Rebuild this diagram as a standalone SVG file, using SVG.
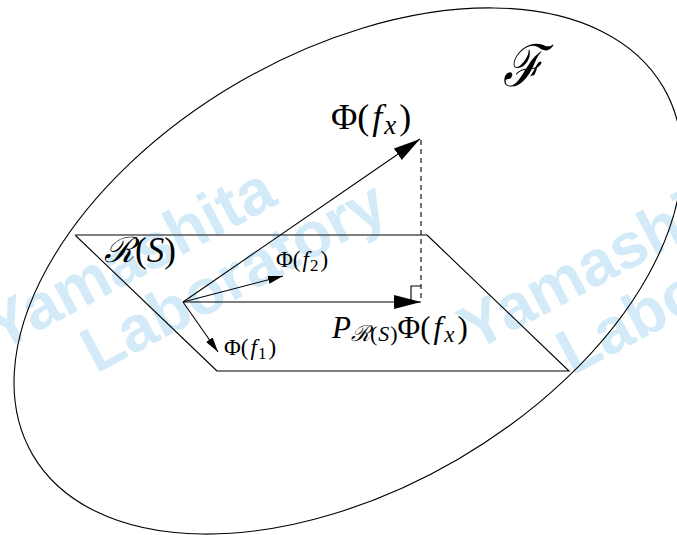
<svg xmlns="http://www.w3.org/2000/svg" width="677" height="535" viewBox="0 0 677 535">
<style>
.wm{font-family:"Liberation Sans",Arial,sans-serif;font-weight:bold;font-size:64px;fill:#d3ebf8}
.ln{fill:none;stroke:#000;stroke-width:1.1}
.m{font-family:"Liberation Serif","Times New Roman",serif;fill:#000}
.it{font-style:italic}
.sc{font-family:"DejaVu Serif",serif;font-style:italic}
</style>
<defs>
<marker id="big" markerUnits="userSpaceOnUse" markerWidth="28" markerHeight="16" refX="27" refY="7" orient="auto"><path d="M0,0 L27,7 L0,14 z" fill="#000"/></marker>
<marker id="small" markerUnits="userSpaceOnUse" markerWidth="16" markerHeight="10" refX="15" refY="4" orient="auto"><path d="M0,0 L15,4 L0,8 z" fill="#000"/></marker>
</defs>
<rect width="677" height="535" fill="#fff"/>
<g id="watermark">
<text class="wm" transform="translate(0,352) rotate(-28)">Yamashita</text>
<text class="wm" transform="translate(96,374) rotate(-28)">Laboratory</text>
<text class="wm" transform="translate(474,352) rotate(-28)">Yamashita</text>
<text class="wm" transform="translate(572,376) rotate(-28)">Laboratory</text>
</g>
<g id="space-F">
<ellipse class="ln" cx="348" cy="271" rx="365" ry="218" transform="rotate(-30.2 348 271)"/>
<text class="sc" transform="translate(503,86) scale(0.85,1)" font-size="58">ℱ</text>
</g>
<g id="subspace-RS">
<path class="ln" d="M217,371 L75,235"/>
<path d="M75,235 L427,235" fill="none" stroke="#555" stroke-width="1.4"/>
<path class="ln" d="M427,235 L569,371 L217,371"/>
<text class="m" x="104" y="262" font-size="35"><tspan class="sc" font-size="35">ℛ</tspan>(<tspan class="it">S</tspan>)</text>
</g>
<g id="connectors">
<line class="ln" x1="183" y1="302" x2="420" y2="139" marker-end="url(#big)"/>
<line class="ln" x1="183" y1="302" x2="421" y2="302" marker-end="url(#big)"/>
<line class="ln" x1="183" y1="302" x2="283" y2="276" marker-end="url(#small)"/>
<line class="ln" x1="183" y1="302" x2="218" y2="352" marker-end="url(#small)"/>
<line class="ln" x1="421" y1="140" x2="421" y2="300" stroke-dasharray="5,4"/>
<path class="ln" d="M411,300 L411,286 L421,286"/>
</g>
<g id="label-phi-fx">
<text class="m" x="331" y="129" font-size="36">Φ(<tspan class="it" dx="3">f</tspan><tspan class="it" font-size="27" dx="2" dy="5">x</tspan><tspan dx="3" dy="-5">)</tspan></text>
</g>
<g id="label-phi-f2">
<text class="m" x="276" y="267" font-size="23">Φ(<tspan class="it" dx="2">f</tspan><tspan font-size="17" dx="1" dy="4">2</tspan><tspan dx="2" dy="-4">)</tspan></text>
</g>
<g id="label-phi-f1">
<text class="m" x="224" y="355" font-size="23">Φ(<tspan class="it" dx="2">f</tspan><tspan font-size="17" dx="1" dy="4">1</tspan><tspan dx="2" dy="-4">)</tspan></text>
</g>
<g id="label-projection">
<text class="m" x="332" y="338" font-size="31"><tspan class="it">P</tspan><tspan font-size="22" dy="3"><tspan class="sc" font-size="22">ℛ</tspan>(<tspan class="it" dx="1">S</tspan><tspan dx="1">)</tspan></tspan><tspan dy="-3">Φ(</tspan><tspan class="it" dx="3">f</tspan><tspan class="it" font-size="23" dx="2" dy="4">x</tspan><tspan dx="3" dy="-4">)</tspan></text>
</g>
</svg>
